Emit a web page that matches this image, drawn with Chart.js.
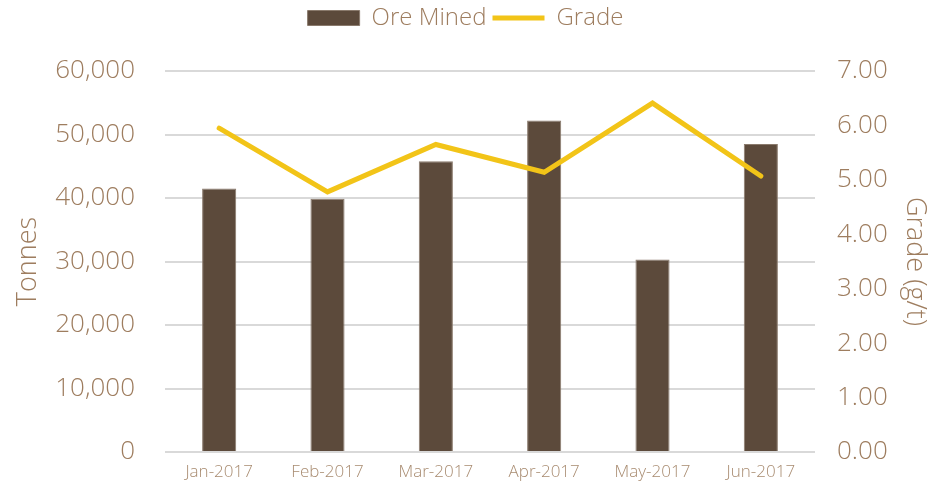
<!DOCTYPE html>
<html>
<head>
<meta charset="utf-8">
<script src="https://cdn.jsdelivr.net/npm/chart.js@4"></script>
<style>
  html, body { margin: 0; padding: 0; background: #fff; }
  #wrap { width: 931px; height: 483px; }
</style>
</head>
<body>
<div id="wrap"><canvas id="chart"></canvas></div>
<script>
// Daten
const months = ['Jan-2017', 'Feb-2017', 'Mar-2017', 'Apr-2017', 'May-2017', 'Jun-2017'];
const oreMined = [41500, 39900, 45800, 52200, 30300, 48500];
const grade = [5.95, 4.78, 5.65, 5.14, 6.41, 5.07];
const tonnesTicks = [0, 10000, 20000, 30000, 40000, 50000, 60000];
const gradeTicks = [0, 1, 2, 3, 4, 5, 6, 7];

const brown = '#5c4a3b';
const yellow = '#f2c418';
const textCol = '#9e7d5f';
const fontFam = '"Open Sans", sans-serif';

// Legende ganz nach oben schieben
const legendTop = {
    id: 'legendTop',
    afterLayout(chart) {
        const l = chart.legend;
        const h = l.bottom - l.top;
        l.top = 0;
        l.bottom = h;
    }
};

function initChart() {
    const ctx = document.getElementById('chart');
    new Chart(ctx, {
        data: {
            labels: months,
            datasets: [{
                type: 'bar',
                label: 'Ore Mined',
                data: oreMined,
                backgroundColor: brown,
                borderColor: '#8a7a6c',
                borderWidth: 1,
                barPercentage: 0.315,
                categoryPercentage: 1,
                yAxisID: 'y',
                pointStyle: 'rect',
                order: 2
            }, {
                type: 'line',
                label: 'Grade',
                data: grade,
                borderColor: yellow,
                backgroundColor: yellow,
                borderWidth: 5,
                borderCapStyle: 'round',
                borderJoinStyle: 'miter',
                pointRadius: 0,
                tension: 0,
                yAxisID: 'y1',
                pointStyle: 'line',
                order: 1
            }]
        },
        plugins: [legendTop],
        options: {
            responsive: true,
            maintainAspectRatio: false,
            animation: false,
            layout: { padding: 0 },
            plugins: {
                tooltip: { enabled: false },
                legend: {
                    position: 'top',
                    labels: {
                        usePointStyle: true,
                        pointStyleWidth: 52,
                        boxHeight: 15,
                        padding: 6,
                        color: textCol,
                        font: { family: fontFam, size: 24, weight: '300' },
                        sort: (a, b) => a.datasetIndex - b.datasetIndex
                    }
                }
            },
            scales: {
                x: {
                    grid: { display: false },
                    border: { display: false },
                    ticks: {
                        color: '#a88b70',
                        padding: 2,
                        maxRotation: 0,
                        font: { family: fontFam, size: 17, weight: '300' }
                    },
                    afterFit: axis => { axis.height = 31; }
                },
                y: {
                    position: 'left',
                    min: 0,
                    max: 60000,
                    afterBuildTicks: axis => { axis.ticks = tonnesTicks.map(v => ({ value: v })); },
                    grid: { color: '#d9d9d9', lineWidth: 2, drawTicks: false },
                    border: { display: false },
                    ticks: {
                        color: textCol,
                        padding: 30,
                        font: { family: fontFam, size: 26, weight: '300' },
                        callback: v => v.toLocaleString('en-US')
                    },
                    title: {
                        display: true,
                        text: 'Tonnes',
                        color: textCol,
                        padding: { top: 12, bottom: 0 },
                        font: { family: fontFam, size: 27, weight: '300' }
                    },
                    afterFit: axis => {
                        axis.width = 165;
                        axis.paddingTop = 71;
                        axis.paddingBottom = 0;
                    }
                },
                y1: {
                    position: 'right',
                    min: 0,
                    max: 7,
                    afterBuildTicks: axis => { axis.ticks = gradeTicks.map(v => ({ value: v })); },
                    grid: { display: false, drawTicks: false },
                    border: { display: false },
                    ticks: {
                        color: textCol,
                        padding: 22,
                        font: { family: fontFam, size: 26, weight: '300' },
                        callback: v => Number(v).toFixed(2)
                    },
                    title: {
                        display: true,
                        text: 'Grade (g/t)',
                        color: textCol,
                        padding: { top: 0, bottom: 6 },
                        font: { family: fontFam, size: 27, weight: '300' }
                    },
                    afterFit: axis => {
                        axis.width = 116;
                        axis.paddingTop = 71;
                        axis.paddingBottom = 0;
                    }
                }
            }
        }
    });
}

document.addEventListener('DOMContentLoaded', initChart);
</script>
</body>
</html>
